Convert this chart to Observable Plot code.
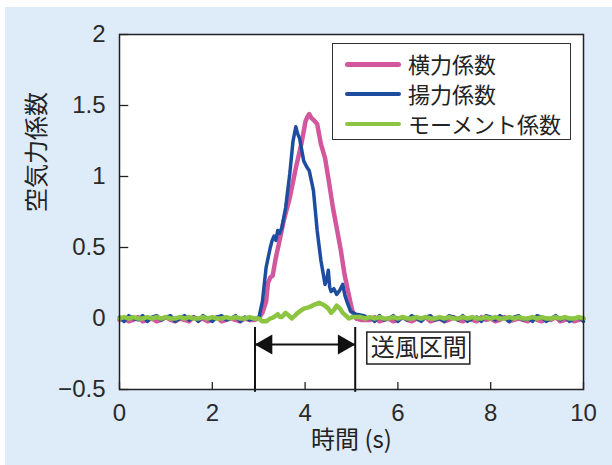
<!DOCTYPE html>
<html>
<head>
<meta charset="utf-8">
<script src="https://cdn.jsdelivr.net/npm/d3@7"></script>
<script src="https://cdn.jsdelivr.net/npm/@observablehq/plot@0.6"></script>
<style>
  html, body { margin: 0; padding: 0; background: #ffffff; }
  #wrap { position: relative; width: 612px; height: 465px; background: #ffffff; overflow: hidden; }
  #bg { position: absolute; left: 5px; top: 7px; right: 0; bottom: 0; background: #deebf8; }
  #chart { position: absolute; left: 0; top: 0; }
  #legend { position: absolute; left: 332px; top: 43px; width: 239px; height: 97px; border: 1.5px solid #333; background: #fff; box-sizing: border-box; font-family: "Noto Sans CJK JP", sans-serif; font-size: 22px; color: #222; }
  .row { position: absolute; left: 0; height: 30px; }
  .sw { position: absolute; left: 12px; width: 56px; border-radius: 3px; }
  .lb { position: absolute; left: 75px; white-space: nowrap; line-height: 30px; top: -1px; }
</style>
</head>
<body>
<div id="wrap"><div id="bg"></div><div id="chart"></div><div id="legend"></div></div>
<script>
// ---- data ----
const seriesNames = ["横力係数", "揚力係数", "モーメント係数"];
const seriesColors = ["#d2579c", "#1e4c9f", "#8cc541"];

const tPre = [0,0.1,0.2,0.3,0.4,0.5,0.6,0.7,0.8,0.9,1.0,1.1,1.2,1.3,1.4,1.5,1.6,1.7,1.8,1.9,2.0,2.1,2.2,2.3,2.4,2.5,2.6,2.7,2.8,2.9];
const tPost = [5.4,5.5,5.6,5.7,5.8,5.9,6.0,6.1,6.2,6.3,6.4,6.5,6.6,6.7,6.8,6.9,7.0,7.1,7.2,7.3,7.4,7.5,7.6,7.7,7.8,7.9,8.0,8.1,8.2,8.3,8.4,8.5,8.6,8.7,8.8,8.9,9.0,9.1,9.2,9.3,9.4,9.5,9.6,9.7,9.8,9.9,10.0];

// 横力係数 (lateral)
const latPre = [-0.01,0.00,-0.02,-0.01,0.01,-0.02,-0.01,0.00,-0.02,-0.01,0.01,-0.01,-0.02,0.00,-0.01,-0.02,0.01,-0.01,0.00,-0.02,-0.01,0.01,-0.02,-0.01,0.00,-0.01,-0.02,0.00,-0.01,-0.01];
const latPeakT = [3.0,3.08,3.16,3.2,3.25,3.3,3.37,3.45,3.54,3.67,3.8,3.92,4.01,4.05,4.09,4.14,4.18,4.26,4.34,4.43,4.51,4.6,4.68,4.77,4.85,4.94,5.02,5.1,5.2,5.3];
const latPeak = [0.0,0.04,0.12,0.25,0.29,0.30,0.43,0.55,0.69,0.85,1.06,1.23,1.39,1.42,1.44,1.41,1.40,1.37,1.23,1.13,0.97,0.78,0.64,0.48,0.31,0.17,0.05,0.0,-0.01,-0.01];
const latPost = [-0.01,0.01,-0.02,-0.01,0.00,-0.02,-0.01,0.01,-0.01,-0.02,0.00,-0.01,0.01,-0.02,-0.01,0.00,-0.02,-0.01,0.01,-0.01,-0.02,0.00,-0.01,-0.02,0.01,-0.01,0.00,-0.02,-0.01,0.01,-0.02,-0.01,0.00,-0.01,-0.02,0.01,-0.01,-0.02,0.00,-0.01,0.01,-0.02,-0.01,0.00,-0.02,-0.01,0.00];

// 揚力係数 (lift)
const liftPre = [0.01,-0.02,0.02,0.00,-0.01,0.02,-0.02,0.01,0.02,-0.01,0.01,0.02,-0.02,0.00,0.02,-0.01,0.01,-0.02,0.02,0.00,-0.02,0.01,0.02,-0.01,0.00,0.02,-0.02,0.01,-0.01,0.00];
const liftPeakT = [3.0,3.08,3.16,3.25,3.29,3.33,3.37,3.41,3.45,3.5,3.58,3.67,3.74,3.8,3.84,3.88,3.97,4.03,4.09,4.18,4.26,4.34,4.43,4.47,4.5,4.53,4.56,4.62,4.68,4.75,4.81,4.86,4.9,4.98,5.1,5.27,5.35];
const liftPeak = [0.0,0.12,0.36,0.50,0.55,0.58,0.55,0.62,0.60,0.64,0.78,1.02,1.25,1.35,1.30,1.27,1.11,1.07,1.04,0.90,0.62,0.41,0.24,0.28,0.34,0.22,0.19,0.21,0.17,0.20,0.24,0.16,0.12,0.05,0.03,0.02,0.0];
const liftPost = [0.01,-0.02,0.02,-0.01,0.00,0.02,-0.02,0.01,-0.01,0.02,0.00,-0.02,0.01,0.02,-0.01,0.00,-0.02,0.02,0.01,-0.01,0.02,-0.02,0.00,0.01,-0.02,0.02,0.01,-0.01,0.02,0.00,-0.02,0.01,0.02,-0.01,0.00,-0.02,0.02,0.01,-0.02,0.00,0.02,-0.01,0.01,-0.02,0.00,0.01,-0.02];

// モーメント係数 (moment)
const momPre = [0.00,0.01,0.00,0.01,0.00,0.00,0.01,0.00,0.01,0.00,0.01,0.00,0.00,0.01,0.00,0.01,0.00,0.00,0.01,0.00,0.01,0.00,0.00,0.01,0.00,0.01,0.00,0.00,0.01,0.00];
const momPeakT = [3.0,3.08,3.16,3.25,3.33,3.41,3.46,3.5,3.58,3.65,3.71,3.78,3.84,3.97,4.09,4.22,4.3,4.37,4.43,4.5,4.56,4.62,4.68,4.75,4.81,4.88,4.94,5.02,5.1,5.2,5.3];
const momPeak = [0.0,-0.02,-0.02,0.0,0.01,0.03,0.01,0.01,0.04,0.02,0.0,0.02,0.04,0.07,0.08,0.10,0.11,0.10,0.09,0.07,0.04,0.06,0.09,0.07,0.04,0.02,0.0,0.01,0.01,0.01,0.0];
const momPost = [0.01,0.00,0.01,0.00,0.00,0.01,0.00,0.01,0.00,0.00,0.01,0.00,0.01,0.00,0.00,0.01,0.00,0.01,0.00,0.00,0.01,0.00,0.01,0.00,0.00,0.01,0.00,0.01,0.00,0.00,0.01,0.00,0.01,0.00,0.00,0.01,0.00,0.01,0.00,0.00,0.01,0.00,0.01,0.00,0.00,0.01,0.00];

const xTicks = [0, 2, 4, 6, 8, 10];
const yTicks = [-0.5, 0, 0.5, 1, 1.5, 2];
const yTickLabels = ["−0.5", "0", "0.5", "1", "1.5", "2"];
const xLabel = "時間 (s)";
const yLabel = "空気力係数";
const windLabel = "送風区間";
const windStart = 2.92, windEnd = 5.08;

// ---- build table ----
function build(name, pre, pkT, pk, post) {
  const rows = [];
  tPre.forEach((t, i) => rows.push({series: name, t, v: pre[i]}));
  pkT.forEach((t, i) => rows.push({series: name, t, v: pk[i]}));
  tPost.forEach((t, i) => rows.push({series: name, t, v: post[i]}));
  return rows;
}
const lat = build(seriesNames[0], latPre, latPeakT, latPeak, latPost);
const lift = build(seriesNames[1], liftPre, liftPeakT, liftPeak, liftPost);
const mom = build(seriesNames[2], momPre, momPeakT, momPeak, momPost);

const numFont = "'Liberation Sans', Arial, sans-serif";
const jpFont = "'Noto Sans CJK JP', sans-serif";

const chart = Plot.plot({
  width: 612, height: 465,
  marginLeft: 119, marginRight: 29, marginTop: 34, marginBottom: 76,
  style: {background: "transparent", fontFamily: numFont, fontSize: "24px", color: "#2a2a2a", overflow: "visible"},
  x: {domain: [0, 10]},
  y: {domain: [-0.5, 2]},
  marks: [
    Plot.frame({fill: "white", stroke: "none"}),
    Plot.axisX({ticks: xTicks, tickSize: 0, tickPadding: 14, label: null, fontSize: 24, fontFamily: numFont}),
    Plot.axisY({ticks: yTicks, tickSize: 0, tickPadding: 14, label: null, fontSize: 24, fontFamily: numFont,
      tickFormat: d => yTickLabels[yTicks.indexOf(d)]}),
    // inward ticks
    Plot.ruleY(yTicks, {y: d => d, x1: 0, x2: 0.2, stroke: "#222", strokeWidth: 1.3}),
    Plot.ruleX(xTicks, {x: d => d, y1: -0.5, y2: -0.45, stroke: "#222", strokeWidth: 1.3}),
    // series
    Plot.line(lat, {x: "t", y: "v", stroke: seriesColors[0], strokeWidth: 4.5}),
    Plot.line(lift, {x: "t", y: "v", stroke: seriesColors[1], strokeWidth: 3.5}),
    Plot.line(mom, {x: "t", y: "v", stroke: seriesColors[2], strokeWidth: 4.5}),
    // wind interval annotation
    Plot.ruleX([windStart, windEnd], {x: d => d, y1: -0.52, y2: -0.063, stroke: "#111", strokeWidth: 2}),
    Plot.link([{a: windStart, b: windEnd}], {x1: "a", x2: "b", y1: -0.183, y2: -0.183, stroke: "#111", strokeWidth: 2}),
    Plot.dot([windEnd], {x: d => d, y: -0.183, symbol: "triangle", r: 7.5, rotate: 90, dx: -11.5, fill: "#111", stroke: "none"}),
    Plot.dot([windStart], {x: d => d, y: -0.183, symbol: "triangle", r: 7.5, rotate: -90, dx: 11.5, fill: "#111", stroke: "none"}),
    Plot.rect([{x1: 5.34, x2: 7.56, y1: -0.099, y2: -0.324}], {x1: "x1", x2: "x2", y1: "y1", y2: "y2", fill: "white", stroke: "#222", strokeWidth: 1.5}),
    Plot.text([windLabel], {x: 6.45, y: -0.212, text: d => d, fontSize: 24, fontFamily: jpFont, fill: "#222"}),
    // axis titles
    Plot.text([xLabel], {frameAnchor: "bottom", text: d => d, dy: 58, fontSize: 24, fontFamily: jpFont, fill: "#222"}),
    Plot.text([yLabel], {frameAnchor: "left", text: d => d, dx: -82, rotate: -90, fontSize: 24, fontFamily: jpFont, fill: "#222"}),
    Plot.frame({stroke: "#222", strokeWidth: 1.5})
  ]
});
document.getElementById("chart").appendChild(chart);

// legend
const legend = document.getElementById("legend");
const rowTops = [5, 35, 65];
const swH = [5, 4, 4];
seriesNames.forEach((n, i) => {
  const row = document.createElement("div");
  row.className = "row";
  row.style.top = rowTops[i] + "px";
  const sw = document.createElement("span");
  sw.className = "sw";
  sw.style.background = seriesColors[i];
  sw.style.height = swH[i] + "px";
  sw.style.top = (15 - swH[i] / 2) + "px";
  const lb = document.createElement("span");
  lb.className = "lb";
  lb.textContent = n;
  row.appendChild(sw); row.appendChild(lb);
  legend.appendChild(row);
});
</script>
</body>
</html>
